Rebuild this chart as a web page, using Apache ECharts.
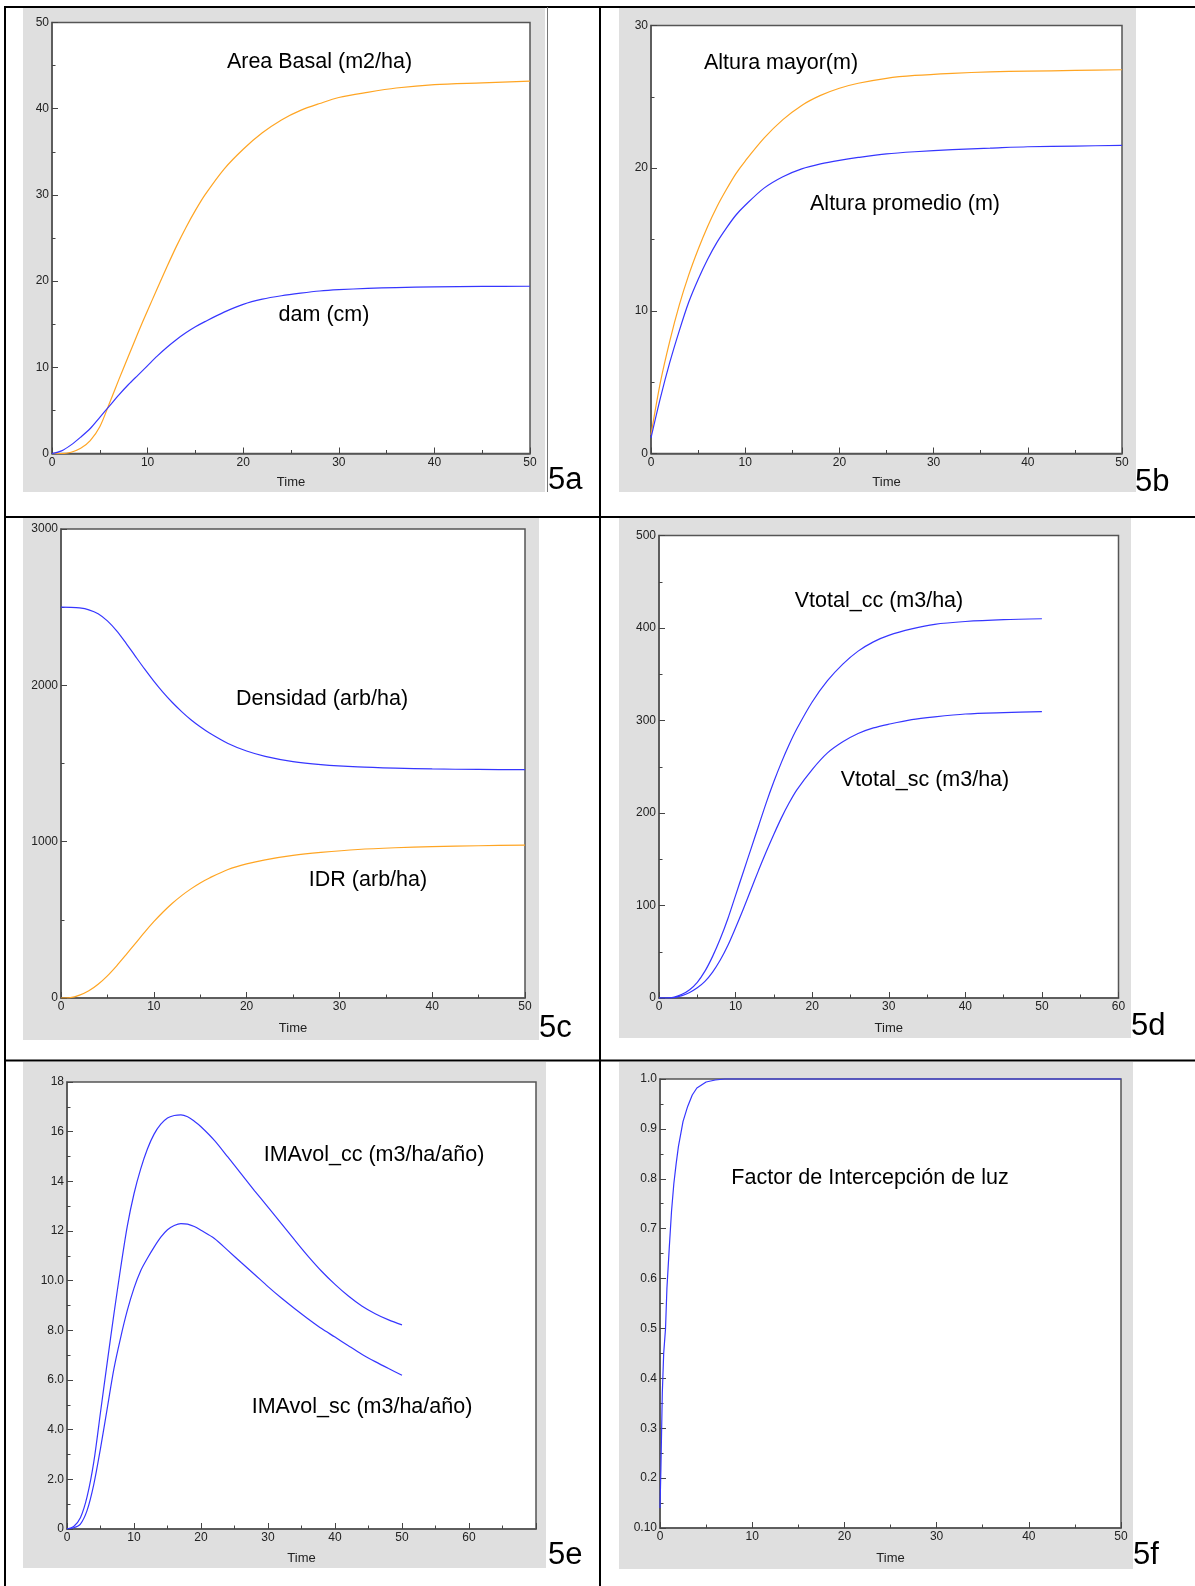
<!DOCTYPE html>
<html>
<head>
<meta charset="utf-8">
<script src="https://cdn.jsdelivr.net/npm/echarts@6/dist/echarts.min.js"></script>
<style>
html,body{margin:0;padding:0;background:#fff;}
#c{width:1195px;height:1586px;}
</style>
</head>
<body>
<div id="c"></div>
<script>
// ---- 5a ----
const t5a = [0,1,2,3,4,5,6,7,8,9,10,11,12,13,14,15,16,18,20,22,24,26,28,30,33,36,40,45,50];
const areaBasal = [0,0,0.15,0.6,1.5,3.1,5.8,8.6,11.3,14.0,16.6,19.1,21.6,24.0,26.2,28.2,30.0,33.0,35.3,37.2,38.7,39.8,40.6,41.3,41.9,42.4,42.8,43.0,43.2];
const dam = [0,0.3,1.0,1.9,2.9,4.2,5.5,6.8,8.0,9.1,10.2,11.3,12.3,13.2,14.0,14.7,15.3,16.4,17.3,17.9,18.3,18.6,18.85,19.0,19.15,19.25,19.33,19.38,19.4];
// ---- 5b ----
const t5b = [0,1,2,3,4,5,6,7,8,9,10,12,14,16,18,20,22,25,28,32,36,40,45,50];
const alturaMayor = [1.3,5.0,7.9,10.4,12.5,14.3,15.9,17.3,18.5,19.6,20.5,22.1,23.4,24.4,25.1,25.6,25.95,26.3,26.5,26.65,26.75,26.8,26.85,26.9];
const alturaPromedio = [1.1,3.9,6.4,8.6,10.6,12.2,13.6,14.8,15.8,16.7,17.4,18.6,19.4,19.95,20.3,20.55,20.75,21.0,21.15,21.3,21.4,21.5,21.55,21.6];
// ---- 5c ----
const t5c = [0,1,2,3,4,5,6,7,8,9,10,11,12,13,14,15,16,18,20,22,25,28,32,36,40,45,50];
const densidad = [2500,2499,2495,2483,2458,2412,2348,2270,2187,2105,2027,1955,1890,1832,1780,1735,1695,1628,1580,1546,1512,1493,1478,1470,1465,1462,1461];
const idr = [0,2,18,46,88,142,206,276,348,420,488,550,606,655,698,736,768,822,858,884,912,931,950,961,968,974,978];
// ---- 5d ----
const t5d = [0,1,2,3,4,5,6,7,8,9,10,11,12,13,14,15,16,17,18,20,22,24,26,28,30,33,36,40,45,50];
const vtotalCC = [0,0,1,4,9,17,29,45,64,86,111,136,161,186,211,234,255,274,291,320,343,361,375,385,392,399,404,407,409,410];
const vtotalSC = [0,0,0.5,2.5,6,11,18,28,41,57,76,96,117,138,158,177,195,211,225,247,265,277,286,292,296,301,304,307,308.5,309.5];
// ---- 5e ----
const t5e = [0,1,2,3,4,5,6,7,8,9,10,11,12,13,14,15,16,17,18,19,20,22,24,26,28,30,32,34,36,38,40,42,44,46,48,50];
const imaCC = [0,0.1,0.45,1.3,2.7,4.7,6.7,8.65,10.5,12.2,13.5,14.5,15.3,15.9,16.3,16.55,16.65,16.68,16.6,16.42,16.2,15.65,14.98,14.3,13.62,12.96,12.3,11.63,10.98,10.38,9.85,9.38,8.98,8.67,8.42,8.22];
const imaSC = [0,0.05,0.2,0.75,1.8,3.25,4.85,6.45,7.7,8.8,9.7,10.4,10.9,11.35,11.75,12.05,12.22,12.3,12.28,12.18,12.03,11.7,11.22,10.73,10.25,9.76,9.3,8.87,8.46,8.07,7.73,7.38,7.04,6.74,6.46,6.19];
// ---- 5f ----
const t5f = [0,0.1,0.25,0.4,0.6,0.75,1,1.25,1.5,1.75,2,2.5,3,3.5,4,5,6,7,8,10,20,30,40,50];
const factorLuz = [0.14,0.22,0.37,0.45,0.5,0.58,0.66,0.735,0.79,0.83,0.865,0.915,0.945,0.968,0.982,0.994,0.998,1.0,1.0,1.0,1.0,1.0,1.0,1.0];

// tick-label helpers
const fmtPlain = v => String(v);
const fmt5e = v => v === 0 ? '0' : (v >= 12 ? String(v) : v.toFixed(1));
const fmt5f = v => Math.abs(v - 0.1) < 1e-9 ? '0.10' : v.toFixed(1);

const BLUE = '#3636ff';
const ORANGE = '#ffa523';
const FONT = '"Liberation Sans", Arial, sans-serif';

const grids = [
  {left:52, top:22.5, width:478, height:431},
  {left:651, top:25.5, width:471, height:428},
  {left:61, top:529, width:464, height:469},
  {left:659, top:535.5, width:459.5, height:462.5},
  {left:67, top:1082, width:469, height:447},
  {left:660, top:1079, width:461, height:449}
];
const xCfg = [
  {min:0,max:50,interval:10,gap:22},
  {min:0,max:50,interval:10,gap:22},
  {min:0,max:50,interval:10,gap:24},
  {min:0,max:60,interval:10,gap:24},
  {min:0,max:70,interval:10,gap:23,hideMax:true},
  {min:0,max:50,interval:10,gap:24}
];
const yCfg = [
  {min:0,max:50,interval:10,fmt:fmtPlain},
  {min:0,max:30,interval:10,fmt:fmtPlain},
  {min:0,max:3000,interval:1000,fmt:fmtPlain},
  {min:0,max:500,interval:100,fmt:fmtPlain},
  {min:0,max:18,interval:2,fmt:fmt5e},
  {min:0.1,max:1.0,interval:0.1,fmt:fmt5f}
];

const axisCommon = {
  axisLine:{show:true,onZero:false,lineStyle:{color:'#555',width:1.5}},
  axisTick:{show:true,inside:true,length:6,lineStyle:{color:'#444',width:1}},
  minorTick:{show:true,splitNumber:2,length:3.5,lineStyle:{color:'#444',width:1}},
  splitLine:{show:false},
  minorSplitLine:{show:false}
};

const xAxis = xCfg.map((c,i)=>Object.assign({}, JSON.parse(JSON.stringify(axisCommon)), {
  type:'value', gridIndex:i, min:c.min, max:c.max, interval:c.interval,
  name:'Time', nameLocation:'middle', nameGap:c.gap,
  nameTextStyle:{fontSize:13,color:'#222',fontFamily:FONT},
  axisLabel:{fontSize:12,color:'#222',fontFamily:FONT,margin:3,
    formatter: c.hideMax ? (v => v === c.max ? '' : String(v)) : fmtPlain}
}));
const yAxis = yCfg.map((c,i)=>Object.assign({}, JSON.parse(JSON.stringify(axisCommon)), {
  type:'value', gridIndex:i, min:c.min, max:c.max, interval:c.interval,
  axisLabel:{fontSize:12,color:'#222',fontFamily:FONT,margin:3,formatter:c.fmt}
}));

function line(idx, t, vals, color, opts){
  return Object.assign({
    type:'line', xAxisIndex:idx, yAxisIndex:idx,
    data: t.map((x,k)=>[x, vals[k]]),
    showSymbol:false, symbol:'none', smooth:0.3,
    lineStyle:{color:color,width:1.2}, itemStyle:{color:color}, z:5
  }, opts||{});
}

const series = [
  line(0,t5a,areaBasal,ORANGE),
  line(0,t5a,dam,BLUE),
  line(1,t5b,alturaMayor,ORANGE),
  line(1,t5b,alturaPromedio,BLUE),
  line(2,t5c,densidad,BLUE),
  line(2,t5c,idr,ORANGE),
  line(3,t5d,vtotalCC,BLUE),
  line(3,t5d,vtotalSC,BLUE),
  line(4,t5e,imaCC,BLUE),
  line(4,t5e,imaSC,BLUE),
  line(5,t5f,factorLuz,BLUE,{smooth:false,clip:false})
];

// decorative frame: grey panels, table lines, annotations
const panels = [
  [23,7,522,485],[619,8,517,484],[23,518,516,522],[619,518,512,520],[23,1062,523,506],[619,1062,514,507]
];
const graphic = [];
panels.forEach(p=>graphic.push({type:'rect',shape:{x:p[0],y:p[1],width:p[2],height:p[3]},style:{fill:'#dfdfdf'},z:-10,silent:true}));
const tableLines = [
  [5,7,1195,7],[5,6,5,1586],[600,6,600,1586],[5,517,1195,517],[5,1060.5,1195,1060.5]
];
tableLines.forEach(l=>graphic.push({type:'line',shape:{x1:l[0],y1:l[1],x2:l[2],y2:l[3]},style:{stroke:'#000',lineWidth:2},z:-9,silent:true}));
graphic.push({type:'line',shape:{x1:547.5,y1:7,x2:547.5,y2:492},style:{stroke:'#777',lineWidth:1},z:-9,silent:true});

const notes = [
  ['Area Basal (m2/ha)',319.5,62.5],
  ['dam (cm)',324,315],
  ['Altura mayor(m)',781,63],
  ['Altura promedio (m)',905,204],
  ['Densidad (arb/ha)',322,699],
  ['IDR (arb/ha)',368,880],
  ['Vtotal_cc (m3/ha)',879,601],
  ['Vtotal_sc (m3/ha)',925,780],
  ['IMAvol_cc (m3/ha/año)',374,1155],
  ['IMAvol_sc (m3/ha/año)',362,1407],
  ['Factor de Intercepción de luz',870,1178]
];
notes.forEach(n=>graphic.push({type:'text',z:100,silent:true,
  style:{text:n[0],x:n[1],y:n[2],textAlign:'center',textVerticalAlign:'middle',align:'center',verticalAlign:'middle',
  font:'21.5px '+FONT,fill:'#000'}}));
const tags = [['5a',548,480],['5b',1135,482],['5c',539,1028],['5d',1131,1026],['5e',548,1555],['5f',1133,1555]];
tags.forEach(n=>graphic.push({type:'text',z:100,silent:true,
  style:{text:n[0],x:n[1],y:n[2],textAlign:'left',textVerticalAlign:'middle',align:'left',verticalAlign:'middle',
  font:'31px '+FONT,fill:'#000'}}));

const chart = echarts.init(document.getElementById('c'), null, {renderer:'canvas'});
chart.setOption({
  animation:false,
  backgroundColor:'#fff',
  grid: grids.map(g=>Object.assign({show:true,backgroundColor:'#fff',borderColor:'#555',borderWidth:1.5,containLabel:false},g)),
  xAxis: xAxis,
  yAxis: yAxis,
  series: series,
  graphic: graphic
});
</script>
</body>
</html>
